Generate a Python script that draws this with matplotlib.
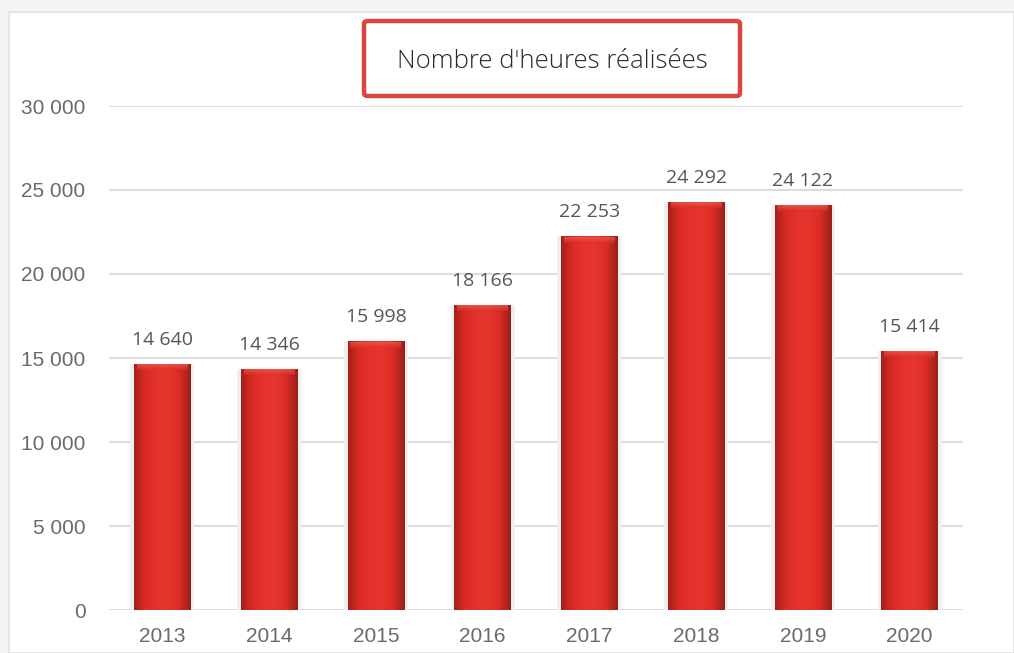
import numpy as np
import matplotlib
matplotlib.use("Agg")
import matplotlib.pyplot as plt
from matplotlib.patches import FancyBboxPatch, Rectangle
from matplotlib.colors import LinearSegmentedColormap

years = ["2013", "2014", "2015", "2016", "2017", "2018", "2019", "2020"]
hours = [14640, 14346, 15998, 18166, 22253, 24292, 24122, 15414]
yticks = [0, 5000, 10000, 15000, 20000, 25000, 30000]
title = "Nombre d'heures réalisées"


def fmt(v):
    return f"{v:,}".replace(",", " ")


fig = plt.figure(figsize=(10.14, 6.53), dpi=100)
fig.patch.set_facecolor("#f4f5f7")
# white panel
fig.patches.append(Rectangle((9 / 1014, 0), 1 - 9 / 1014, 1 - 12 / 653, transform=fig.transFigure,
                             facecolor="white", edgecolor="#e2e2e2", lw=1.2, zorder=-5))

ax = fig.add_axes([109 / 1014, 1 - 610 / 653, (963 - 109) / 1014, (610 - 106) / 653])
ax.set_facecolor("none")
x = np.arange(len(years))
width = 0.53

# soft halo behind bars
ax.bar(x, hours, width=width + 0.07, color="#efefef", zorder=1)
bars = ax.bar(x, hours, width=width, color="#e02b26", edgecolor="none", zorder=2)

# horizontal gradient inside each bar (dark edges, bright middle)
cmap = LinearSegmentedColormap.from_list("barg", ["#a32019", "#d92b25", "#e6322c", "#e5362d", "#d92b25", "#96201a"])
vcmap = LinearSegmentedColormap.from_list("top", ["#e02b26", "#ee6a5e"])
grad = np.linspace(0, 1, 256).reshape(1, -1)
for b in bars:
    x0, w, h = b.get_x(), b.get_width(), b.get_height()
    im = ax.imshow(grad, extent=[x0, x0 + w, 0, h], aspect="auto", cmap=cmap, zorder=3)
    im.set_clip_path(b)
    # lighter bevel at top
    top = ax.imshow(np.linspace(0, 1, 64).reshape(-1, 1)[::-1], extent=[x0 + w * 0.05, x0 + w * 0.95, h - 380, h - 40],
                    aspect="auto", cmap=vcmap, alpha=0.6, zorder=4)
    ax.text(x0 + w / 2, h + 900, fmt(h), ha="center", va="bottom",
            fontsize=14, color="#555555", family=["Open Sans", "DejaVu Sans"])

ax.set_xlim(-0.5, len(years) - 0.5)
ax.set_ylim(0, 30000)
ax.set_yticks(yticks)
ax.set_yticklabels([fmt(v) for v in yticks])
ax.set_xticks(x)
ax.set_xticklabels(years)
ax.grid(axis="y", color="#dcdcdc", lw=1.5, zorder=0)
ax.set_axisbelow(True)
for s in ax.spines.values():
    s.set_visible(False)
ax.tick_params(length=0, colors="#6a6a6a", labelsize=15)
ax.tick_params(axis="y", pad=17)
ax.tick_params(axis="x", pad=12)
for lab in ax.get_xticklabels() + ax.get_yticklabels():
    lab.set_family(["Liberation Sans Narrow", "Liberation Sans", "DejaVu Sans"])

# title box
fig.patches.append(FancyBboxPatch((364 / 1014, 1 - 96 / 653), (740 - 364) / 1014, (96 - 21) / 653,
                                  boxstyle="round,pad=0,rounding_size=0.004", transform=fig.transFigure,
                                  facecolor="white", edgecolor="#d9473f", lw=3.2, zorder=5))
fig.text(552 / 1014, 1 - 61 / 653, title, ha="center", va="center", fontsize=18.5, color="#2a2a2a",
         family=["Open Sans", "DejaVu Sans"], fontweight="light", zorder=6)

fig.savefig("out.png", dpi=100, facecolor=fig.get_facecolor())
